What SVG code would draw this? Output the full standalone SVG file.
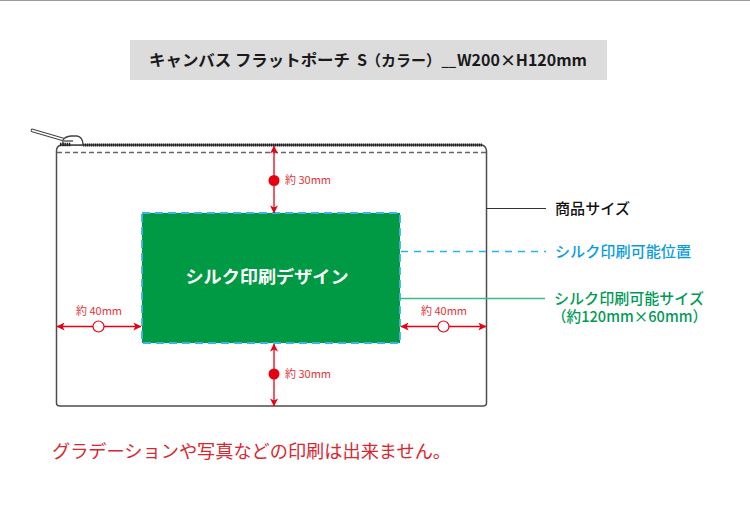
<svg xmlns="http://www.w3.org/2000/svg" width="750" height="514" viewBox="0 0 750 514">
<style>
text{font-family:"Noto Sans CJK JP","Noto Sans",sans-serif}
.dim{font-size:11px;fill:#e0343a}
.arrow{stroke:#e60012;stroke-width:1.3;fill:none;marker-start:url(#a);marker-end:url(#a)}
.lab{font-size:15px;font-weight:500}
</style>
<defs>
<marker id="a" viewBox="0 0 10 10" refX="9.5" refY="5" markerUnits="userSpaceOnUse" markerWidth="8" markerHeight="8" orient="auto-start-reverse"><path d="M0 0L10 5L0 10L2.5 5Z" fill="#e60012"/></marker>
</defs>
<rect width="750" height="514" fill="#fff"/>
<rect x="0" y="0" width="750" height="1" fill="#9a9a9a"/>
<g id="title">
<rect x="130" y="40" width="477" height="40" fill="#dcdcdc"/>
<text y="66" font-size="16" font-weight="700" fill="#1a1a1a"><tspan x="149" textLength="201" lengthAdjust="spacingAndGlyphs">キャンバス フラットポーチ</tspan><tspan x="357">S</tspan><tspan x="366" font-size="15">（カラー）</tspan><tspan x="441.500" font-size="13">__</tspan><tspan x="457" textLength="130" lengthAdjust="spacingAndGlyphs">W200×H120mm</tspan></text>
</g>
<g id="pouch">
<path d="M56.500 154V151Q56.500 146 61 145H482Q486 146 486.500 151V403Q486.500 406 483 406H60Q56.500 406 56.500 403Z" fill="#fff" stroke="#4d4d4d" stroke-width="1.500"/>
<path d="M83 145H482" stroke="#222" stroke-width="3" stroke-dasharray="1.400 .6" fill="none"/>
<path d="M57 152.500H486" stroke="#666" stroke-width="1.400" stroke-dasharray="5 3" fill="none"/>
<path d="M32.500 130.500L65 140" stroke="#444" stroke-width="3.800" stroke-linecap="round" fill="none"/>
<path d="M32.500 130.500L65 140" stroke="#fff" stroke-width="1.800" stroke-linecap="round" fill="none"/>
<path d="M63 145V140Q65 136.500 71 136H77Q83 137 83 145Z" fill="#fff" stroke="#444" stroke-width="1.300"/>
<path d="M64 141H73" stroke="#444" stroke-width="1.300" fill="none"/>
<path d="M60 144.500H71" stroke="#222" stroke-width="3.500" stroke-dasharray="1.500 .7" fill="none"/>
</g>
<g id="print-area">
<rect x="142" y="213" width="258" height="130" fill="#009a44" stroke="#3fb4e0" stroke-width="1.800" stroke-dasharray="8 5"/>
<text x="267" y="283" font-size="17.500" font-weight="700" fill="#fff" text-anchor="middle" textLength="163" lengthAdjust="spacingAndGlyphs">シルク印刷デザイン</text>
</g>
<g id="connectors">
<path d="M486 208.500H546" stroke="#333" stroke-width="1"/>
<path d="M401 251.500H546" stroke="#25b4f0" stroke-width="1.600" stroke-dasharray="7 6"/>
<path d="M400 298.500H545" stroke="#3dbb85" stroke-width="1.500"/>
<path class="arrow" d="M274 146V213"/>
<path class="arrow" d="M274 344V406"/>
<path class="arrow" d="M57 326.500H141"/>
<path class="arrow" d="M401 326.500H486"/>
</g>
<g id="dim-top"><circle cx="274" cy="180.500" r="5.500" fill="#e60012"/><text class="dim" x="285" y="184">約 30mm</text></g>
<g id="dim-bottom"><circle cx="274" cy="374" r="5.500" fill="#e60012"/><text class="dim" x="285" y="377.500">約 30mm</text></g>
<g id="dim-left"><circle cx="98.500" cy="326.500" r="5.500" fill="#fff" stroke="#e60012" stroke-width="1.200"/><text class="dim" x="76" y="315">約 40mm</text></g>
<g id="dim-right"><circle cx="443.500" cy="326.500" r="5.500" fill="#fff" stroke="#e60012" stroke-width="1.200"/><text class="dim" x="421" y="315">約 40mm</text></g>
<g id="label-size"><text class="lab" x="555" y="214" fill="#111" textLength="75" lengthAdjust="spacingAndGlyphs">商品サイズ</text></g>
<g id="label-position"><text class="lab" x="555" y="257" fill="#0a9ddc" textLength="136" lengthAdjust="spacingAndGlyphs">シルク印刷可能位置</text></g>
<g id="label-area"><text class="lab" fill="#009a55"><tspan x="554" y="304" textLength="150" lengthAdjust="spacingAndGlyphs">シルク印刷可能サイズ</tspan><tspan x="552" y="322" textLength="155" lengthAdjust="spacingAndGlyphs">（約120mm×60mm）</tspan></text></g>
<g id="note"><text x="52" y="458" font-size="18" fill="#d7282f" textLength="399" lengthAdjust="spacingAndGlyphs">グラデーションや写真などの印刷は出来ません。</text></g>
</svg>
